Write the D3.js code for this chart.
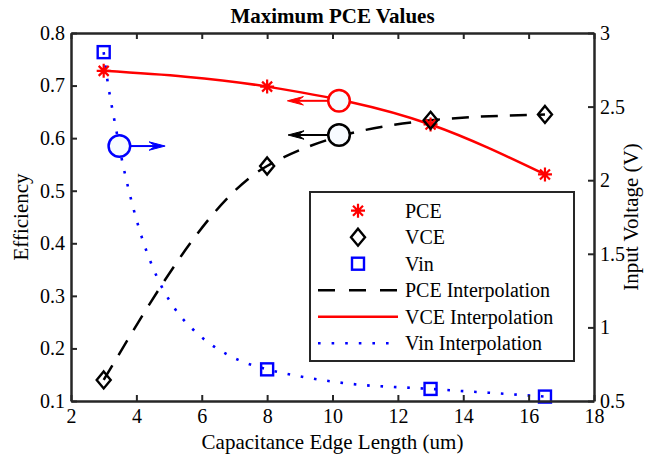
<!DOCTYPE html>
<html>
<head>
<meta charset="utf-8">
<script src="https://cdn.jsdelivr.net/npm/d3@7"></script>
<style>
  html, body { margin: 0; padding: 0; background: #fff; }
  svg { display: block; }
  svg text { font-family: "Liberation Serif", "DejaVu Serif", serif; }
</style>
</head>
<body>
<svg id="chart" width="653" height="457"></svg>
<script>
// ---------------- data ----------------
const edgeLength = [3, 8, 13, 16.5];
const pceValues  = [0.728, 0.698, 0.626, 0.531];
const vceValues  = [0.140, 0.547, 0.634, 0.645];
const vinValues  = [2.87, 0.715, 0.582, 0.530];

// Vin interpolation curve
const vinCurveX = [3, 3.1, 3.25, 3.4, 3.55, 3.73, 3.93, 4.16, 4.44, 4.77, 5.2, 5.75, 6.38, 7.12, 8, 9, 10, 11, 12, 13, 14, 15, 16.5];
const vinCurveY = [2.87, 2.70, 2.50, 2.323, 2.147, 1.967, 1.791, 1.616, 1.442, 1.279, 1.12, 0.982, 0.869, 0.779, 0.715, 0.668, 0.632, 0.607, 0.594, 0.582, 0.567, 0.553, 0.530];

const xTickValues = [2, 4, 6, 8, 10, 12, 14, 16, 18];
const yLeftTicks  = [0.1, 0.2, 0.3, 0.4, 0.5, 0.6, 0.7, 0.8];
const yRightTicks = [0.5, 1, 1.5, 2, 2.5, 3];

const legendLabels = ["PCE", "VCE", "Vin", "PCE Interpolation", "VCE Interpolation", "Vin Interpolation"];

// annotation positions (data coords)
const redMark   = {x: 10.2, y: 0.671, tip: 8.62};
const blackMark = {x: 10.2, y: 0.606, tip: 8.64};
const blueMark  = {x: 3.48, y: 2.232, tip: 4.88};

// ---------------- layout ----------------
const FONT = '"Liberation Serif", "DejaVu Serif", serif';
const svg = d3.select("#chart");
const L = 71, R = 594, T = 33, B = 401;
const AX = "#262626";

const x  = d3.scaleLinear().domain([2, 18]).range([L, R]);
const yL = d3.scaleLinear().domain([0.1, 0.8]).range([B, T]);
const yR = d3.scaleLinear().domain([0.5, 3]).range([B, T]);

const red = "#ff0000", blue = "#0000ff", black = "#000000";

// ---------------- curves ----------------
const plot = svg.append("g");

plot.append("path")
  .datum(edgeLength.map((d, i) => [d, vceValues[i]]))
  .attr("fill", "none").attr("stroke", black).attr("stroke-width", 2.5)
  .attr("stroke-dasharray", "17,12")
  .attr("d", d3.line().x(d => x(d[0])).y(d => yL(d[1])).curve(d3.curveMonotoneX));

plot.append("path")
  .datum(edgeLength.map((d, i) => [d, pceValues[i]]))
  .attr("fill", "none").attr("stroke", red).attr("stroke-width", 2.5)
  .attr("d", d3.line().x(d => x(d[0])).y(d => yL(d[1])).curve(d3.curveMonotoneX));

plot.append("path")
  .datum(vinCurveX.map((d, i) => [d, vinCurveY[i]]))
  .attr("fill", "none").attr("stroke", blue).attr("stroke-width", 2.6)
  .attr("stroke-dasharray", "2.6,10.8")
  .attr("d", d3.line().x(d => x(d[0])).y(d => yR(d[1])).curve(d3.curveMonotoneX));

// ---------------- markers ----------------
function star(g, cx, cy, color) {
  const s = 7, t = 5;
  const p = `M${-s},0L${s},0M0,${-s}L0,${s}M${-t},${-t}L${t},${t}M${-t},${t}L${t},${-t}`;
  g.append("path").attr("transform", `translate(${cx},${cy})`).attr("d", p)
    .attr("stroke", color).attr("stroke-width", 2.2).attr("fill", "none");
}
function diamond(g, cx, cy, color) {
  g.append("path").attr("transform", `translate(${cx},${cy})`)
    .attr("d", "M0,-8.5L7,0L0,8.5L-7,0Z")
    .attr("stroke", color).attr("stroke-width", 2.4).attr("fill", "none");
}
function square(g, cx, cy, color) {
  g.append("rect").attr("x", cx - 6).attr("y", cy - 6).attr("width", 12).attr("height", 12)
    .attr("stroke", color).attr("stroke-width", 2.4).attr("fill", "none");
}

edgeLength.forEach((d, i) => star(plot, x(d), yL(pceValues[i]), red));
edgeLength.forEach((d, i) => diamond(plot, x(d), yL(vceValues[i]), black));
edgeLength.forEach((d, i) => square(plot, x(d), yR(vinValues[i]), blue));

// ---------------- annotations ----------------
function arrowMark(cx, cy, tipX, color) {
  const r = 10.8;
  const dir = tipX < cx ? -1 : 1;
  const startX = cx + dir * r;
  const Lh = 16, w = 4.2, notch = 10;
  plot.append("line").attr("x1", startX).attr("y1", cy).attr("x2", tipX - dir * notch).attr("y2", cy)
    .attr("stroke", color).attr("stroke-width", 2);
  plot.append("path")
    .attr("d", `M${tipX},${cy}L${tipX - dir * Lh},${cy - w}L${tipX - dir * notch},${cy}L${tipX - dir * Lh},${cy + w}Z`)
    .attr("fill", color).attr("stroke", color).attr("stroke-width", 1);
  plot.append("circle").attr("cx", cx).attr("cy", cy).attr("r", r)
    .attr("fill", "#f7fbff").attr("stroke", color).attr("stroke-width", 2.5);
}
arrowMark(x(redMark.x), yL(redMark.y), x(redMark.tip), red);
arrowMark(x(blackMark.x), yL(blackMark.y), x(blackMark.tip), black);
arrowMark(x(blueMark.x), yR(blueMark.y), x(blueMark.tip), blue);

// ---------------- axes ----------------
const fmt = d => d3.format("")(+d.toFixed(2));
function styleAxis(g) {
  g.attr("font-family", FONT);
  g.selectAll(".domain").attr("stroke", AX).attr("stroke-width", 2.5);
  g.selectAll(".tick line").attr("stroke", AX).attr("stroke-width", 2);
  g.selectAll(".tick text").attr("fill", "#000").attr("font-family", FONT).style("font-size", "20px");
}
svg.append("g").attr("transform", `translate(0,${B})`)
  .call(d3.axisBottom(x).tickValues(xTickValues).tickSize(-6).tickSizeOuter(0).tickPadding(8).tickFormat(fmt))
  .call(styleAxis);
svg.append("g").attr("transform", `translate(0,${T})`)
  .call(d3.axisTop(x).tickValues(xTickValues).tickSize(-6).tickSizeOuter(0).tickFormat(""))
  .call(styleAxis);
svg.append("g").attr("transform", `translate(${L},0)`)
  .call(d3.axisLeft(yL).tickValues(yLeftTicks).tickSize(-6).tickSizeOuter(0).tickPadding(6).tickFormat(fmt))
  .call(styleAxis);
svg.append("g").attr("transform", `translate(${R},0)`)
  .call(d3.axisRight(yR).tickValues(yRightTicks).tickSize(-6).tickSizeOuter(0).tickPadding(6).tickFormat(fmt))
  .call(styleAxis);

// ---------------- labels ----------------
function label(sel) { return sel.attr("font-family", FONT).attr("fill", "#000"); }
label(svg.append("text")).attr("x", (L + R) / 2).attr("y", 23).attr("text-anchor", "middle")
  .style("font-size", "21px").style("font-weight", "bold").text("Maximum PCE Values");
label(svg.append("text")).attr("x", (L + R) / 2).attr("y", 449).attr("text-anchor", "middle")
  .style("font-size", "21px").text("Capacitance Edge Length (um)");
label(svg.append("text")).attr("transform", `translate(28,${(T + B) / 2}) rotate(-90)`).attr("text-anchor", "middle")
  .style("font-size", "21px").text("Efficiency");
label(svg.append("text")).attr("transform", `translate(638,${(T + B) / 2}) rotate(-90)`).attr("text-anchor", "middle")
  .style("font-size", "21px").text("Input Voltage (V)");

// ---------------- legend ----------------
const lg = svg.append("g");
lg.append("rect").attr("x", 310).attr("y", 192).attr("width", 264).attr("height", 169)
  .attr("fill", "#fff").attr("stroke", AX).attr("stroke-width", 2);
const rowY = i => 210.7 + i * 26.5;
const mX = 358, lx1 = 318, lx2 = 398, tx = 405;
star(lg, mX, rowY(0), red);
diamond(lg, mX, rowY(1), black);
square(lg, mX, rowY(2), blue);
lg.append("line").attr("x1", lx1).attr("x2", lx2).attr("y1", rowY(3)).attr("y2", rowY(3))
  .attr("stroke", black).attr("stroke-width", 2.5).attr("stroke-dasharray", "17,14");
lg.append("line").attr("x1", lx1).attr("x2", lx2).attr("y1", rowY(4)).attr("y2", rowY(4))
  .attr("stroke", red).attr("stroke-width", 2.5);
lg.append("line").attr("x1", lx1).attr("x2", lx2).attr("y1", rowY(5)).attr("y2", rowY(5))
  .attr("stroke", blue).attr("stroke-width", 2.6).attr("stroke-dasharray", "2.6,11");
legendLabels.forEach((t, i) => {
  label(lg.append("text")).attr("x", tx).attr("y", rowY(i)).attr("dy", "0.35em")
    .style("font-size", "20px").text(t);
});
</script>
</body>
</html>
